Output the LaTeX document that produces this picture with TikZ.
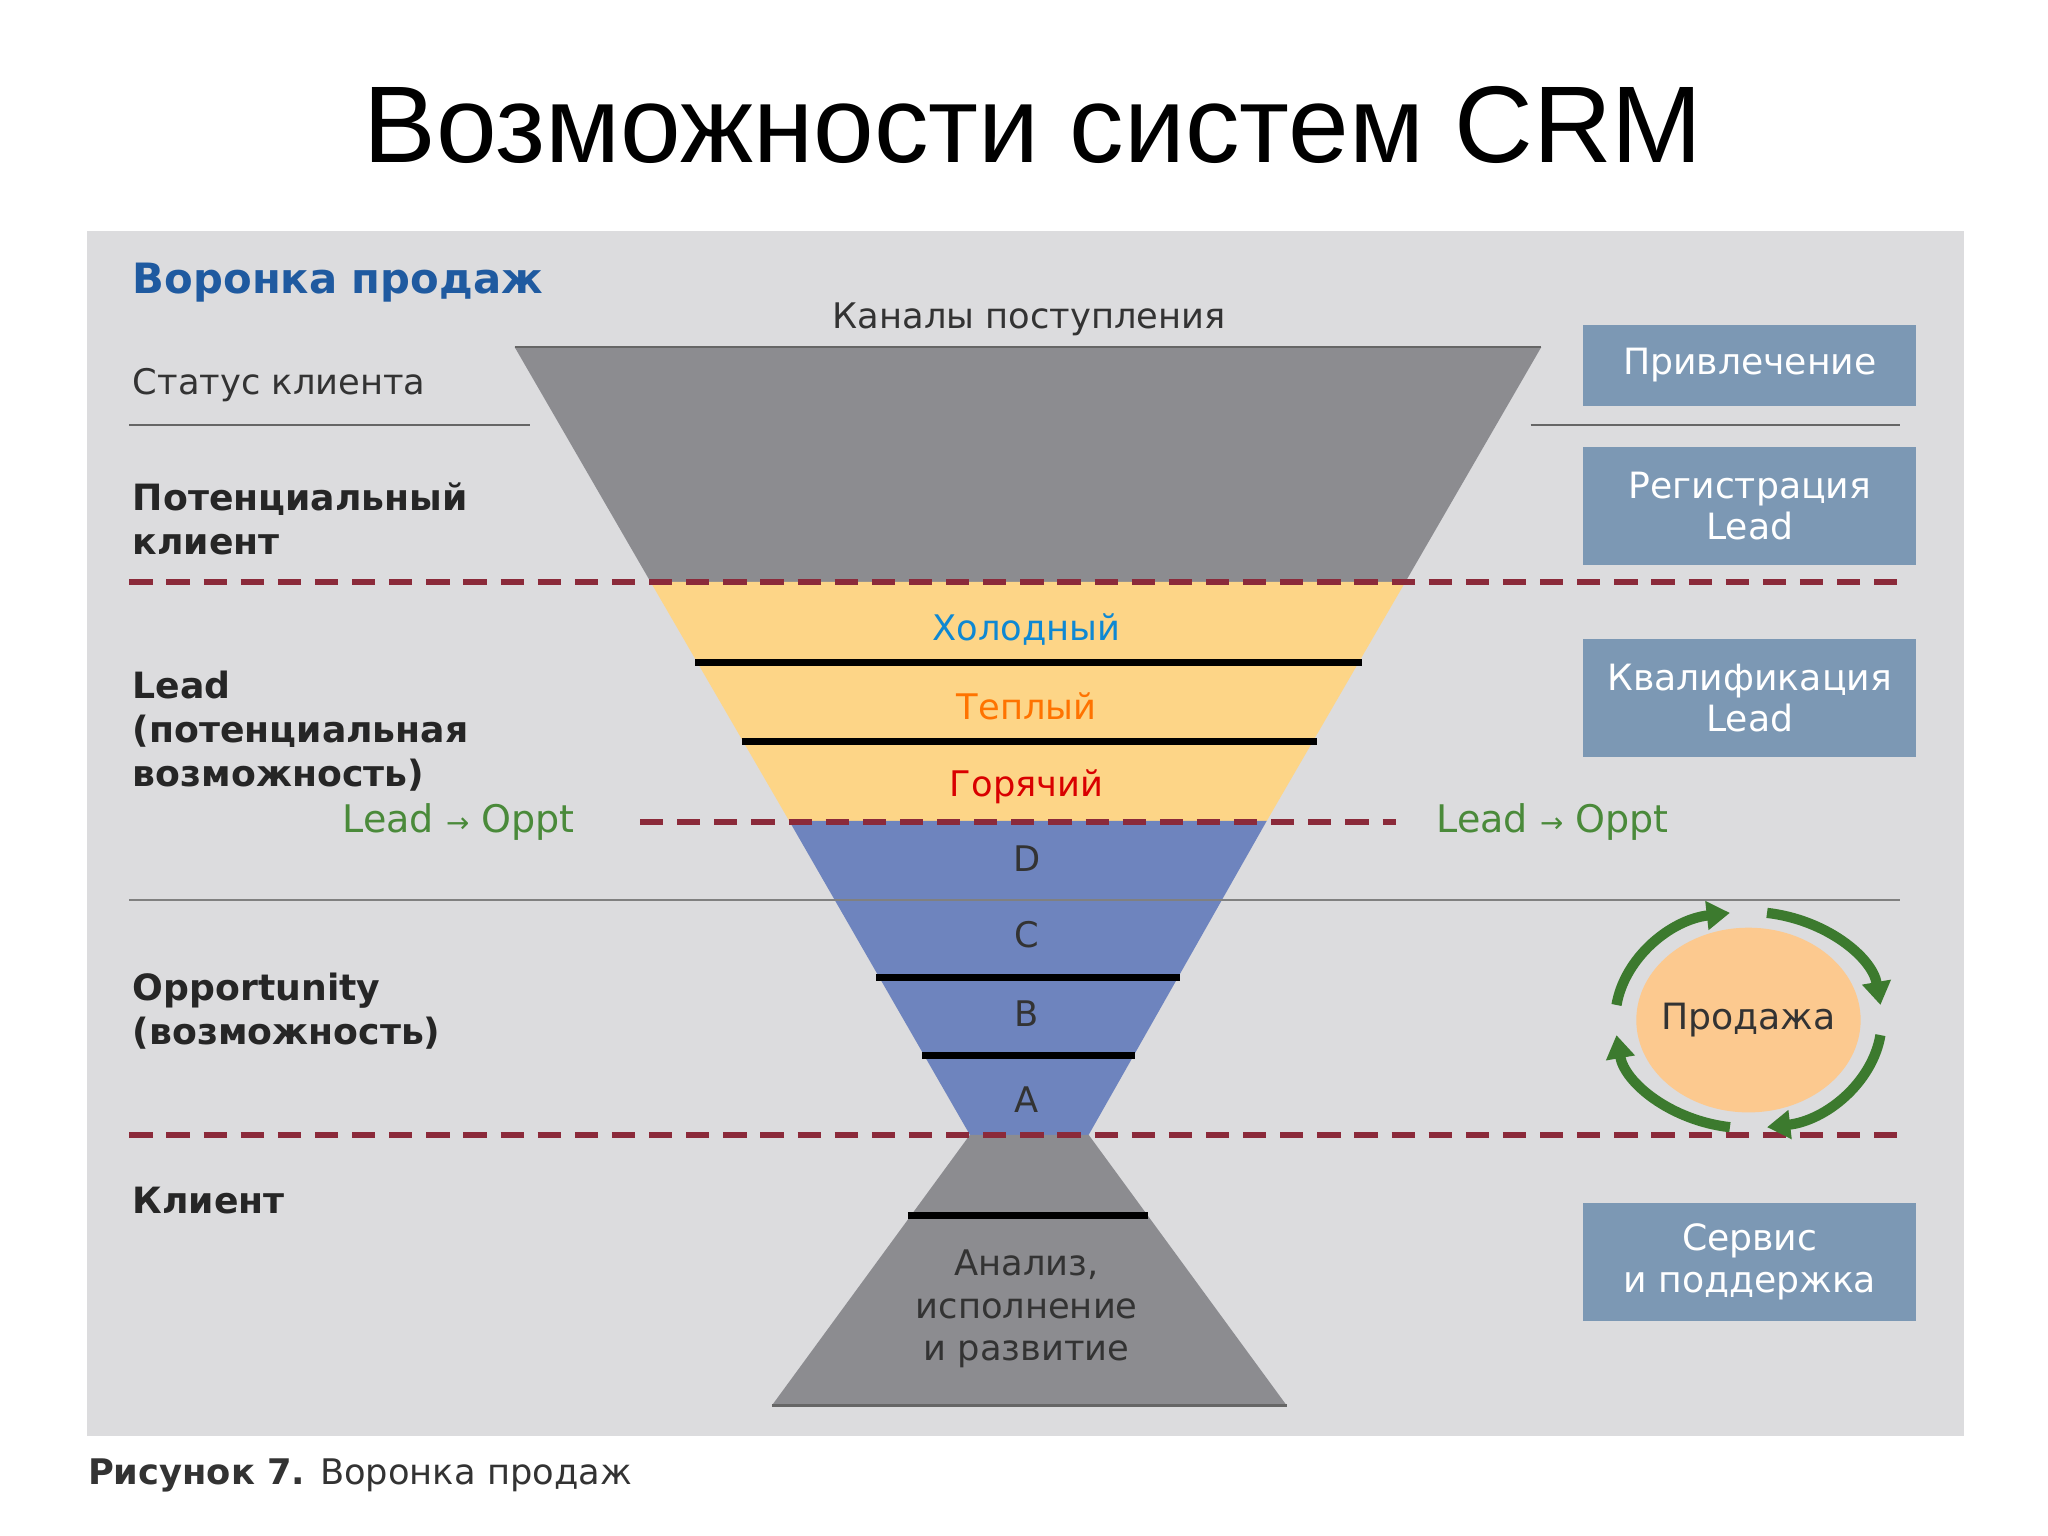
\documentclass[tikz,border=0pt]{standalone}
\usepackage{fontspec}
\setmainfont{DejaVu Sans}
\newfontfamily\titlefont{Liberation Sans}
\usetikzlibrary{arrows.meta}
\definecolor{panel}{HTML}{DCDCDE}
\definecolor{fgray}{HTML}{8C8C90}
\definecolor{fyel}{HTML}{FDD587}
\definecolor{fblue}{HTML}{6E84BE}
\definecolor{dred}{HTML}{8B2A3A}
\definecolor{lgreen}{HTML}{4A8A3A}
\definecolor{dgreen}{HTML}{3C7A2E}
\definecolor{boxc}{HTML}{7C98B4}
\definecolor{hblue}{HTML}{1F5AA0}
\definecolor{sale}{RGB}{252,201,143}
\begin{document}
\begin{tikzpicture}[x=0.01cm,y=-0.01cm,
  txt/.style={font=\fontsize{7.6}{9.5}\selectfont,text=black!80,inner sep=0},
  btxt/.style={font=\fontsize{7.8}{9.5}\selectfont\bfseries,text=black!85,align=left,inner sep=0},
  rbox/.style={fill=boxc,text=white,font=\fontsize{7.8}{9}\selectfont,align=center,minimum width=2.52cm,inner sep=0},
  dline/.style={dred,line width=1.3pt,dash pattern=on 5pt off 3pt},
  sep/.style={black,line width=1.5pt},
  garc/.style={dgreen,line width=2.2pt,-{Triangle[length=5pt,width=6pt]}}]
\useasboundingbox (0,0) rectangle (1552,1164);
\node[font=\titlefont\fontsize{23.5}{28}\selectfont] (title) at (783,95) {Возможности систем CRM};
\fill[panel] (66,175) rectangle (1488,1088);
\node[font=\fontsize{9}{11}\selectfont\bfseries,text=hblue,anchor=west,inner sep=0] (vp) at (100,214) {Воронка продаж};
% funnel
\fill[fgray] (390,263) -- (1168,263) -- (1065,441) -- (493,441) -- cycle;
\draw[black!60,line width=0.6pt] (390,263) -- (1168,263);
\fill[fyel] (493,441) -- (1065,441) -- (960,622) -- (598,622) -- cycle;
\fill[fblue] (598,622) -- (960,622) -- (825,860) -- (735,860) -- cycle;
\fill[fgray] (735,860) -- (825,860) -- (975,1065) -- (585,1065) -- cycle;
\draw[black!60,line width=0.6pt] (585,1065) -- (975,1065);
\draw[sep] (527,502) -- (1032,502);
\draw[sep] (562,562) -- (998,562);
\draw[sep] (664,741) -- (894,741);
\draw[sep] (699,800) -- (860,800);
\draw[sep] (688,921) -- (870,921);
% lines
\draw[black!60,line width=0.6pt] (98,322) -- (402,322);
\draw[black!60,line width=0.6pt] (1160,322) -- (1440,322);
\draw[black!50,line width=0.5pt] (98,682) -- (1440,682);
\draw[dline] (98,441) -- (1440,441);
\draw[dline] (485,623) -- (1058,623);
\draw[dline] (98,860) -- (1440,860);
% funnel labels
\node[txt] (kan) at (780,242) {Каналы поступления};
\node[txt,text=cyan!70!blue] (hol) at (778,477) {Холодный};
\node[txt,text=orange!90!red] (tep) at (778,535) {Теплый};
\node[txt,text=red!85!black] (gor) at (778,596) {Горячий};
\node[txt] (d) at (778,651) {D};
\node[txt] (c) at (778,708) {C};
\node[txt] (b) at (778,768) {B};
\node[txt] (a) at (778,833) {A};
\node[txt,align=center,font=\fontsize{7.6}{9.2}\selectfont] (an) at (778,992) {Анализ,\\исполнение\\и развитие};
% left labels
\node[txt,anchor=west] (st) at (100,292) {Статус клиента};
\node[btxt,anchor=west] (pk) at (100,393) {Потенциальный\\клиент};
\node[btxt,anchor=west] (ld) at (100,554) {Lead\\(потенциальная\\возможность)};
\node[btxt,anchor=west] (op) at (100,766) {Opportunity\\(возможность)};
\node[btxt,anchor=west] (kl) at (100,910) {Клиент};
\node[txt,text=lgreen,anchor=west,font=\fontsize{8.2}{10}\selectfont] (lo1) at (259,623) {Lead {\fontsize{6}{6}\selectfont→} Oppt};
\node[txt,text=lgreen,anchor=west,font=\fontsize{8.2}{10}\selectfont] (lo2) at (1088,623) {Lead {\fontsize{6}{6}\selectfont→} Oppt};
% right boxes
\node[rbox,minimum height=0.62cm] (b1) at (1326,277) {Привлечение};
\node[rbox,minimum height=0.89cm] (b2) at (1326,383.5) {Регистрация\\Lead};
\node[rbox,minimum height=0.90cm] (b3) at (1326,529) {Квалификация\\Lead};
\node[rbox,minimum height=0.89cm] (b4) at (1326,956.5) {Сервис\\и поддержка};
% sale cycle
\fill[sale] (1325,773) ellipse [x radius=85,y radius=70];
\node[txt,font=\fontsize{7.8}{10}\selectfont] (saletxt) at (1325,773) {Продажа};
\draw[garc] (1325,773) ++(-82:101 and 82) arc[start angle=-82,end angle=-8,x radius=101,y radius=82];
\draw[garc] (1325,773) ++(8:101 and 82) arc[start angle=8,end angle=82,x radius=101,y radius=82];
\draw[garc] (1325,773) ++(98:101 and 82) arc[start angle=98,end angle=172,x radius=101,y radius=82];
\draw[garc] (1325,773) ++(-172:101 and 82) arc[start angle=-172,end angle=-98,x radius=101,y radius=82];
% caption
\node[txt,anchor=west] (cap) at (66,1118) {\textbf{Рисунок 7.} Воронка продаж};
\end{tikzpicture}
\end{document}
